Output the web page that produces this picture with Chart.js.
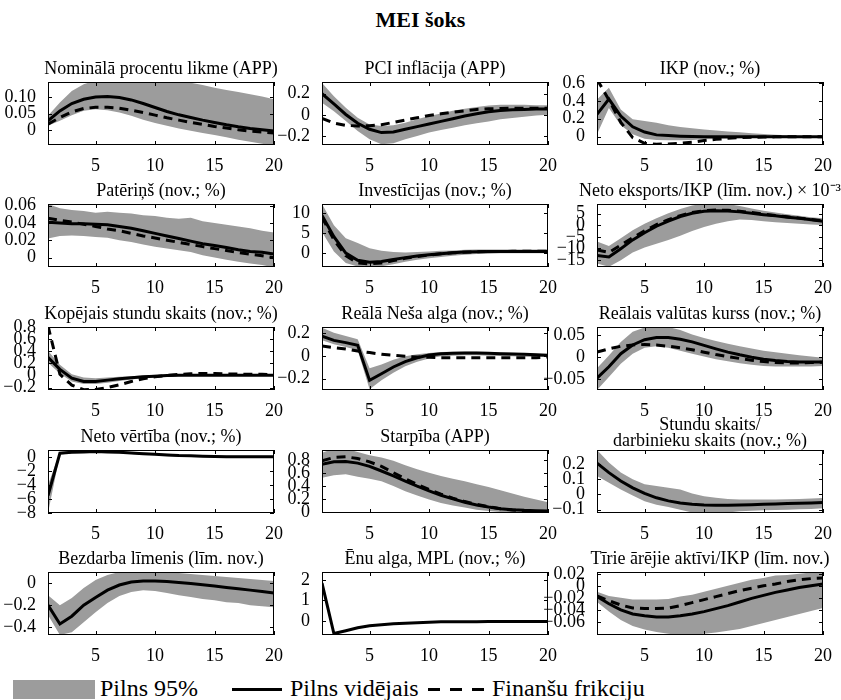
<!DOCTYPE html>
<html>
<head>
<meta charset="utf-8">
<title>MEI šoks</title>
<script src="https://cdn.jsdelivr.net/npm/chart.js@4.4.1/dist/chart.umd.min.js"></script>
<style>
  body { margin: 0; background: #fff; }
  #page { position: relative; width: 841px; height: 700px; overflow: hidden; font-family: 'Liberation Serif', serif; color: #000; }
  #page canvas { position: absolute; }
  #heading { position: absolute; left: 0; top: 7px; width: 841px; text-align: center; font-weight: bold; font-size: 22px; line-height: 26px; }
  .key { position: absolute; top: 675px; font-size: 24px; line-height: 27px; white-space: nowrap; }
  .swatch { position: absolute; left: 13px; top: 680px; width: 82px; height: 19px; background: #9c9c9c; }
  .solid { position: absolute; left: 232px; top: 688px; width: 50px; height: 3px; background: #000; }
  .dashed { position: absolute; left: 428px; top: 688px; width: 57px; height: 3px;
            background: repeating-linear-gradient(to right, #000 0 12px, transparent 12px 22px); }
</style>
</head>
<body>
<div id="page">
  <div id="heading">MEI šoks</div>
  <div class="swatch"></div><div class="key" style="left:100px">Pilns 95%</div>
  <div class="solid"></div><div class="key" style="left:290px">Pilns vidējais</div>
  <div class="dashed"></div><div class="key" style="left:492px">Finanšu frikciju</div>
</div>
<script>
// quarters after the shock
const steps = [1,2,3,4,5,6,7,8,9,10,11,12,13,14,15,16,17,18,19,20];
const xTicks = [5, 10, 15, 20];

// nominal interest rate
const rateHi   = [0.043,0.083,0.118,0.138,0.15,0.152,0.153,0.152,0.15,0.15,0.15,0.148,0.143,0.136,0.128,0.121,0.115,0.108,0.101,0.093];
const rateLo   = [0.013,0.028,0.045,0.058,0.063,0.06,0.053,0.043,0.031,0.021,0.013,0.005,-0.002,-0.009,-0.015,-0.022,-0.029,-0.035,-0.041,-0.047];
const rateFull = [0.028,0.058,0.08,0.093,0.1,0.101,0.098,0.091,0.08,0.068,0.056,0.046,0.038,0.03,0.023,0.016,0.01,0.005,0.001,-0.003];
const rateFin  = [0.018,0.038,0.055,0.065,0.069,0.069,0.066,0.06,0.053,0.045,0.037,0.03,0.023,0.017,0.011,0.006,0.001,-0.003,-0.006,-0.009];
const rateTicks = [0, 0.05, 0.1];
const rateLabels = ['0', '0.05', '0.10'];

// CPI inflation
const inflHi   = [0.3,0.176,0.068,-0.025,-0.087,-0.102,-0.096,-0.071,-0.04,-0.009,0.015,0.04,0.059,0.077,0.09,0.096,0.096,0.096,0.093,0.093];
const inflLo   = [0.115,0.037,-0.056,-0.149,-0.226,-0.272,-0.263,-0.226,-0.195,-0.164,-0.139,-0.118,-0.096,-0.077,-0.059,-0.04,-0.028,-0.015,-0.003,0.003];
const inflFull = [0.2,0.105,0.006,-0.077,-0.133,-0.164,-0.158,-0.133,-0.108,-0.084,-0.059,-0.034,-0.009,0.012,0.031,0.043,0.05,0.053,0.056,0.056];
const inflFin  = [-0.03,-0.075,-0.096,-0.102,-0.099,-0.09,-0.068,-0.046,-0.025,-0.003,0.012,0.028,0.04,0.053,0.059,0.062,0.065,0.065,0.065,0.065];
const inflTicks = [-0.2, 0, 0.2];
const inflLabels = ['\u22120.2', '0', '0.2'];

// GDP
const gdpHi   = [0.415,0.545,0.304,0.193,0.174,0.156,0.126,0.107,0.093,0.081,0.07,0.059,0.048,0.037,0.03,0.022,0.015,0.011,0.007,0.004];
const gdpLo   = [0.026,0.32,0.126,0.026,-0.022,-0.037,-0.04,-0.04,-0.037,-0.03,-0.026,-0.022,-0.019,-0.015,-0.011,-0.011,-0.007,-0.007,-0.004,-0.004];
const gdpFull = [0.248,0.42,0.23,0.11,0.052,0.02,0.012,0.006,0.002,0,0,0,0,0,0,0,0,0,0,0];
const gdpFin  = [0.64,0.41,0.16,-0.01,-0.074,-0.085,-0.081,-0.074,-0.063,-0.044,-0.03,-0.019,-0.011,-0.007,-0.004,-0.002,-0.001,0,0,0];
const gdpTicks = [0, 0.2, 0.4, 0.6];
const gdpLabels = ['0', '0.2', '0.4', '0.6'];

// consumption
const consHi   = [0.062,0.057,0.055,0.054,0.052,0.053,0.052,0.051,0.049,0.048,0.046,0.045,0.046,0.042,0.04,0.038,0.036,0.034,0.031,0.029];
const consLo   = [0.022,0.025,0.0256,0.025,0.0237,0.023,0.02,0.018,0.015,0.0126,0.0103,0.0084,0.0065,0.0027,0,-0.0027,-0.005,-0.007,-0.0088,-0.0115];
const consFull = [0.041,0.04,0.039,0.039,0.0386,0.038,0.036,0.034,0.031,0.028,0.025,0.022,0.019,0.016,0.014,0.0115,0.009,0.007,0.006,0.004];
const consFin  = [0.0455,0.043,0.041,0.0386,0.036,0.033,0.031,0.028,0.025,0.0226,0.02,0.0176,0.015,0.0126,0.0103,0.008,0.0057,0.0038,0.002,-0.0004];
const consTicks = [0, 0.02, 0.04, 0.06];
const consLabels = ['0', '0.02', '0.04', '0.06'];

// investment
const invHi   = [12.3,7.0,3.7,2.5,1.2,0.57,0.25,0.16,0.25,0.4,0.57,0.66,0.8,0.9,0.9,0.9,0.9,0.9,0.9,0.9];
const invLo   = [5.3,0.4,-2.5,-3.4,-3.5,-3.3,-2.8,-2.2,-1.7,-1.3,-1.0,-0.66,-0.41,-0.25,-0.16,-0.08,-0.08,-0.08,-0.08,-0.08];
const invFull = [9.4,4.1,0,-1.8,-2.3,-2.1,-1.6,-1.15,-0.74,-0.41,-0.16,0.08,0.25,0.33,0.4,0.4,0.4,0.4,0.4,0.4];
const invFin  = [9.0,3.3,-0.66,-2.5,-2.7,-2.5,-1.9,-1.3,-0.9,-0.5,-0.2,0.05,0.22,0.32,0.38,0.4,0.42,0.42,0.42,0.42];
const invTicks = [0, 5, 10];
const invLabels = ['0', '5', '10'];

// net exports to GDP, x 10^-3
const nxHi   = [-7,-8.9,-5.6,-2.1,0.7,3.1,5.2,7.0,8.5,9.4,9.6,9.2,8.3,7.3,6.3,5.5,4.8,4.1,3.5,3.0];
const nxLo   = [-16.5,-17.9,-15.1,-11.7,-9.6,-8.0,-6.3,-4.5,-2.5,-0.7,0.7,1.8,2.5,2.3,1.8,1.3,1.0,0.7,0.4,0.1];
const nxFull = [-13,-13.7,-10.1,-6.3,-3.2,-0.4,1.8,3.8,5.2,6.1,6.3,6.2,5.8,5.2,4.6,4.1,3.5,3.0,2.4,1.8];
const nxFin  = [-10.6,-11.7,-8.5,-5.4,-2.4,0.3,2.4,4.2,5.5,6.3,6.6,6.5,6.1,5.5,4.8,4.2,3.7,3.1,2.5,2.0];
const nxTicks = [-15, -10, -5, 0, 5];
const nxLabels = ['\u221215', '\u221210', '\u22125', '0', '5'];

// total hours
const hoursHi   = [0.41,0.176,0.022,-0.033,-0.044,-0.033,-0.022,-0.011,0,0.011,0.016,0.016,0.016,0.016,0.016,0.016,0.016,0.016,0.016,0.016];
const hoursLo   = [0.21,0.033,-0.1,-0.143,-0.143,-0.12,-0.093,-0.066,-0.044,-0.027,-0.016,-0.011,-0.005,-0.005,-0.005,-0.005,-0.005,-0.005,-0.005,-0.005];
const hoursFull = [0.3,0.1,-0.044,-0.1,-0.1,-0.077,-0.055,-0.038,-0.022,-0.011,0,0.005,0.005,0.005,0.005,0.005,0.005,0.005,0.005,0.005];
const hoursFin  = [0.82,0.02,-0.16,-0.236,-0.23,-0.2,-0.154,-0.1,-0.055,-0.022,0,0.016,0.027,0.033,0.033,0.027,0.022,0.02,0.018,0.016];
const hoursTicks = [-0.2, 0, 0.2, 0.4, 0.6, 0.8];
const hoursLabels = ['\u22120.2', '0', '0.2', '0.4', '0.6', '0.8'];

// real Nash wage
const wageHi   = [0.25,0.206,0.176,0.147,-0.109,-0.074,-0.032,-0.003,0.015,0.026,0.035,0.038,0.038,0.038,0.035,0.032,0.029,0.024,0.021,0.015];
const wageLo   = [0.138,0.103,0.079,0.05,-0.294,-0.215,-0.147,-0.091,-0.05,-0.021,-0.003,0.003,0.006,0.006,0.003,0,-0.003,-0.006,-0.009,-0.009];
const wageFull = [0.176,0.138,0.118,0.094,-0.215,-0.156,-0.097,-0.05,-0.015,0.009,0.02,0.024,0.026,0.026,0.024,0.02,0.018,0.015,0.012,0.006];
const wageFin  = [0.088,0.074,0.062,0.044,0.03,0.015,0.006,-0.003,-0.009,-0.012,-0.015,-0.015,-0.015,-0.015,-0.015,-0.015,-0.015,-0.015,-0.015,-0.009];
const wageTicks = [-0.2, 0, 0.2];
const wageLabels = ['\u22120.2', '0', '0.2'];

// real exchange rate
const rerHi   = [-0.025,0.004,0.035,0.058,0.068,0.071,0.069,0.062,0.052,0.044,0.037,0.031,0.025,0.02,0.015,0.0115,0.0077,0.0046,0.0015,-0.0015];
const rerLo   = [-0.075,-0.045,-0.015,0.008,0.0215,0.025,0.0215,0.015,0.008,0.0015,-0.0046,-0.009,-0.014,-0.017,-0.02,-0.0215,-0.0215,-0.0215,-0.021,-0.02];
const rerFull = [-0.048,-0.022,0.008,0.028,0.04,0.045,0.045,0.041,0.035,0.027,0.019,0.0115,0.0054,0,-0.0046,-0.0077,-0.01,-0.011,-0.011,-0.011];
const rerFin  = [0.0115,0.019,0.025,0.028,0.029,0.028,0.025,0.0215,0.017,0.0115,0.006,0.0015,-0.003,-0.007,-0.01,-0.012,-0.013,-0.013,-0.012,-0.0115];
const rerTicks = [-0.05, 0, 0.05];
const rerLabels = ['\u22120.05', '0', '0.05'];

// net worth
const nwHi   = [-4,0.75,0.85,0.9,0.95,0.9,0.85,0.75,0.66,0.57,0.48,0.38,0.33,0.28,0.23,0.19,0.19,0.19,0.19,0.19];
const nwLo   = [-8,0.4,0.55,0.6,0.65,0.6,0.55,0.45,0.36,0.27,0.18,0.08,0.04,0,-0.05,-0.09,-0.09,-0.09,-0.09,-0.09];
const nwFull = [-5.5,0.56,0.7,0.75,0.8,0.75,0.7,0.6,0.51,0.42,0.33,0.23,0.19,0.14,0.09,0.05,0.05,0.05,0.05,0.05];
const nwTicks = [-8, -6, -4, -2, 0];
const nwLabels = ['\u22128', '\u22126', '\u22124', '\u22122', '0'];

// spread
const spreadHi   = [0.91,0.97,0.97,0.92,0.87,0.836,0.785,0.718,0.656,0.605,0.554,0.513,0.472,0.43,0.385,0.338,0.287,0.236,0.195,0.154];
const spreadLo   = [0.528,0.564,0.58,0.544,0.513,0.472,0.4,0.323,0.256,0.195,0.144,0.103,0.072,0.041,0.02,0.005,-0.005,-0.01,-0.01,-0.01];
const spreadFull = [0.733,0.77,0.774,0.75,0.7,0.63,0.554,0.477,0.4,0.328,0.26,0.205,0.154,0.113,0.082,0.056,0.041,0.031,0.026,0.02];
const spreadFin  = [0.785,0.836,0.846,0.82,0.77,0.7,0.605,0.513,0.426,0.35,0.277,0.215,0.164,0.123,0.087,0.056,0.036,0.02,0.01,0.005];
const spreadTicks = [0, 0.2, 0.4, 0.6, 0.8];
const spreadLabels = ['0', '0.2', '0.4', '0.6', '0.8'];

// hours per worker
const hpwHi   = [0.293,0.211,0.144,0.1,0.067,0.056,0.044,0.033,0.007,-0.011,-0.022,-0.029,-0.033,-0.033,-0.033,-0.033,-0.031,-0.029,-0.027,-0.024];
const hpwLo   = [0.122,0.078,0.033,-0.007,-0.044,-0.067,-0.082,-0.1,-0.118,-0.129,-0.127,-0.118,-0.111,-0.107,-0.104,-0.102,-0.1,-0.098,-0.096,-0.091];
const hpwFull = [0.207,0.144,0.089,0.044,0.007,-0.022,-0.042,-0.056,-0.064,-0.069,-0.071,-0.071,-0.069,-0.067,-0.064,-0.062,-0.06,-0.058,-0.056,-0.053];
const hpwTicks = [-0.1, 0, 0.1, 0.2];
const hpwLabels = ['\u22120.1', '0', '0.1', '0.2'];

// unemployment rate
const unempHi   = [-0.11,-0.2,-0.136,-0.045,0.027,0.073,0.1,0.11,0.11,0.11,0.105,0.09,0.082,0.073,0.064,0.055,0.045,0.036,0.027,0.018];
const unempLo   = [-0.29,-0.47,-0.445,-0.355,-0.264,-0.18,-0.118,-0.082,-0.064,-0.073,-0.09,-0.11,-0.127,-0.145,-0.155,-0.173,-0.18,-0.2,-0.21,-0.218];
const unempFull = [-0.2,-0.37,-0.3,-0.2,-0.13,-0.064,-0.018,0.01,0.018,0.018,0.013,0.005,-0.005,-0.016,-0.027,-0.04,-0.052,-0.064,-0.077,-0.09];
const unempTicks = [-0.4, -0.2, 0];
const unempLabels = ['\u22120.4', '\u22120.2', '0'];

// shadow wage, MPL
const shadowHi   = [2.1,-0.58,-0.45,-0.31,-0.21,-0.17,-0.12,-0.09,-0.07,-0.045,-0.025,-0.02,-0.02,-0.02,-0.015,-0.015,-0.015,-0.015,-0.015,-0.015];
const shadowLo   = [1.6,-0.68,-0.53,-0.37,-0.27,-0.23,-0.18,-0.15,-0.13,-0.095,-0.075,-0.08,-0.08,-0.08,-0.065,-0.065,-0.065,-0.065,-0.065,-0.065];
const shadowFull = [1.85,-0.63,-0.49,-0.34,-0.24,-0.2,-0.15,-0.12,-0.1,-0.07,-0.05,-0.05,-0.05,-0.05,-0.04,-0.04,-0.04,-0.04,-0.04,-0.04];
const shadowTicks = [0, 1, 2];
const shadowLabels = ['0', '1', '2'];

// net foreign assets to GDP
const nfaHi   = [-0.01,-0.017,-0.02,-0.023,-0.023,-0.023,-0.022,-0.018,-0.015,-0.01,-0.005,0,0.005,0.01,0.013,0.017,0.018,0.02,0.022,0.023];
const nfaLo   = [-0.027,-0.043,-0.057,-0.067,-0.073,-0.077,-0.08,-0.082,-0.082,-0.08,-0.078,-0.075,-0.072,-0.067,-0.062,-0.057,-0.052,-0.047,-0.042,-0.037];
const nfaFull = [-0.018,-0.03,-0.04,-0.047,-0.05,-0.052,-0.052,-0.05,-0.047,-0.043,-0.038,-0.033,-0.027,-0.021,-0.016,-0.011,-0.007,-0.003,0,0.003];
const nfaFin  = [-0.017,-0.025,-0.032,-0.037,-0.038,-0.038,-0.037,-0.033,-0.028,-0.023,-0.018,-0.013,-0.008,-0.004,0,0.003,0.007,0.01,0.012,0.013];
const nfaTicks = [-0.06, -0.04, -0.02, 0, 0.02];
const nfaLabels = ['\u22120.06', '\u22120.04', '\u22120.02', '0', '0.02'];

const panels = [
  {title: ['Nominālā procentu likme (APP)'], hi: rateHi, lo: rateLo, full: rateFull, fin: rateFin, min: -0.045, max: 0.145, ticks: rateTicks, labels: rateLabels},
  {title: ['PCI inflācija (APP)'], hi: inflHi, lo: inflLo, full: inflFull, fin: inflFin, min: -0.28, max: 0.31, ticks: inflTicks, labels: inflLabels},
  {title: ['IKP (nov.; %)'], hi: gdpHi, lo: gdpLo, full: gdpFull, fin: gdpFin, min: -0.093, max: 0.61, ticks: gdpTicks, labels: gdpLabels},
  {title: ['Patēriņš (nov.; %)'], hi: consHi, lo: consLo, full: consFull, fin: consFin, min: -0.011, max: 0.062, ticks: consTicks, labels: consLabels},
  {title: ['Investīcijas (nov.; %)'], hi: invHi, lo: invLo, full: invFull, fin: invFin, min: -3.5, max: 12.3, ticks: invTicks, labels: invLabels},
  {title: ['Neto eksports/IKP (līm. nov.) × 10\u207B\u00B3'], hi: nxHi, lo: nxLo, full: nxFull, fin: nxFin, min: -18, max: 9.2, ticks: nxTicks, labels: nxLabels},
  {title: ['Kopējais stundu skaits (nov.; %)'], hi: hoursHi, lo: hoursLo, full: hoursFull, fin: hoursFin, min: -0.24, max: 0.8, ticks: hoursTicks, labels: hoursLabels},
  {title: ['Reālā Neša alga (nov.; %)'], hi: wageHi, lo: wageLo, full: wageFull, fin: wageFin, min: -0.3, max: 0.256, ticks: wageTicks, labels: wageLabels},
  {title: ['Reālais valūtas kurss (nov.; %)'], hi: rerHi, lo: rerLo, full: rerFull, fin: rerFin, min: -0.075, max: 0.069, ticks: rerTicks, labels: rerLabels},
  {title: ['Neto vērtība (nov.; %)'], hi: nwHi, lo: nwLo, full: nwFull, fin: null, min: -8, max: 1.03, ticks: nwTicks, labels: nwLabels},
  {title: ['Starpība (APP)'], hi: spreadHi, lo: spreadLo, full: spreadFull, fin: spreadFin, min: -0.01, max: 0.95, ticks: spreadTicks, labels: spreadLabels},
  {title: ['Stundu skaits/', 'darbinieku skaits (nov.; %)'], hi: hpwHi, lo: hpwLo, full: hpwFull, fin: null, min: -0.122, max: 0.293, ticks: hpwTicks, labels: hpwLabels},
  {title: ['Bezdarba līmenis (līm. nov.)'], hi: unempHi, lo: unempLo, full: unempFull, fin: null, min: -0.47, max: 0.1, ticks: unempTicks, labels: unempLabels},
  {title: ['Ēnu alga, MPL (nov.; %)'], hi: shadowHi, lo: shadowLo, full: shadowFull, fin: null, min: -0.7, max: 2.4, ticks: shadowTicks, labels: shadowLabels},
  {title: ['Tīrie ārējie aktīvi/IKP (līm. nov.)'], hi: nfaHi, lo: nfaLo, full: nfaFull, fin: nfaFin, min: -0.082, max: 0.023, ticks: nfaTicks, labels: nfaLabels}
];

// grid geometry: plot box corners and the margins kept around each box
const colX = [48, 322, 597];
const rowY = [82, 204, 327, 450, 572];
const boxW = 226, boxH = 63;
const padL = 60, padT = 52, padR = 20, padB = 30;

const serif = "'Liberation Serif', serif";
const bandGray = '#9c9c9c';

// box around the axes, inward ticks on all four sides, title above
const frame = {
  id: 'frame',
  afterDraw(chart, args, opts) {
    const {ctx, chartArea: a, scales} = chart;
    ctx.save();
    ctx.strokeStyle = '#000';
    ctx.lineWidth = 1;
    ctx.strokeRect(a.left + 0.5, a.top + 0.5, a.right - a.left - 1, a.bottom - a.top - 1);
    ctx.beginPath();
    scales.x.ticks.forEach(t => {
      const px = Math.round(scales.x.getPixelForValue(t.value)) + 0.5;
      ctx.moveTo(px, a.bottom); ctx.lineTo(px, a.bottom - 4);
      ctx.moveTo(px, a.top); ctx.lineTo(px, a.top + 4);
    });
    scales.y.ticks.forEach(t => {
      const py = Math.round(scales.y.getPixelForValue(t.value)) + 0.5;
      ctx.moveTo(a.left, py); ctx.lineTo(a.left + 4, py);
      ctx.moveTo(a.right, py); ctx.lineTo(a.right - 4, py);
    });
    ctx.stroke();

    ctx.fillStyle = '#000';
    ctx.font = '18px ' + serif;
    ctx.textAlign = 'center';
    ctx.textBaseline = 'middle';
    const cx = (a.left + a.right) / 2;
    const n = opts.lines.length;
    const base = n > 1 ? a.top - 9 : a.top - 13;
    opts.lines.forEach((s, i) => ctx.fillText(s, cx, base - (n - 1 - i) * 16));
    ctx.restore();
  }
};

const pts = arr => arr.map((v, i) => ({x: steps[i], y: v}));

const page = document.getElementById('page');

panels.forEach((p, k) => {
  const col = k % 3, row = Math.floor(k / 3);
  const canvas = document.createElement('canvas');
  const w = padL + boxW + padR, h = padT + boxH + padB;
  canvas.width = w; canvas.height = h;
  canvas.style.width = w + 'px'; canvas.style.height = h + 'px';
  canvas.style.left = (colX[col] - padL) + 'px';
  canvas.style.top = (rowY[row] - padT) + 'px';
  page.appendChild(canvas);

  const datasets = [
    {data: pts(p.lo), borderColor: 'rgba(0,0,0,0)', borderWidth: 0, pointRadius: 0, fill: false, order: 3, clip: 0},
    {data: pts(p.hi), borderColor: 'rgba(0,0,0,0)', borderWidth: 0, pointRadius: 0, fill: 0, backgroundColor: bandGray, order: 3, clip: 0},
    {data: pts(p.full), borderColor: '#000', borderWidth: 3, pointRadius: 0, fill: false, order: 1, clip: 0}
  ];
  if (p.fin) {
    datasets.push({data: pts(p.fin), borderColor: '#000', borderWidth: 3, borderDash: [9, 6], pointRadius: 0, fill: false, order: 0, clip: 0});
  }

  new Chart(canvas, {
    type: 'line',
    data: {datasets},
    options: {
      responsive: false,
      animation: false,
      devicePixelRatio: 1,
      layout: {padding: {left: 0, top: padT, right: padR, bottom: 0}},
      plugins: {
        legend: {display: false},
        tooltip: {enabled: false},
        frame: {lines: p.title}
      },
      scales: {
        x: {
          type: 'linear', min: 1, max: 20,
          grid: {display: false}, border: {display: false},
          afterBuildTicks: s => { s.ticks = xTicks.map(v => ({value: v})); },
          afterFit: s => { s.height = padB; },
          ticks: {font: {family: serif, size: 18}, color: '#000', padding: 2, autoSkip: false, maxRotation: 0, callback: v => String(v)}
        },
        y: {
          type: 'linear', min: p.min, max: p.max,
          grid: {display: false}, border: {display: false},
          afterBuildTicks: s => { s.ticks = p.ticks.map(v => ({value: v})); },
          afterFit: s => { s.width = padL; },
          ticks: {font: {family: serif, size: 18}, color: '#000', padding: 4, autoSkip: false, callback: (v, i) => p.labels[i]}
        }
      }
    },
    plugins: [frame]
  });
});
</script>
</body>
</html>
